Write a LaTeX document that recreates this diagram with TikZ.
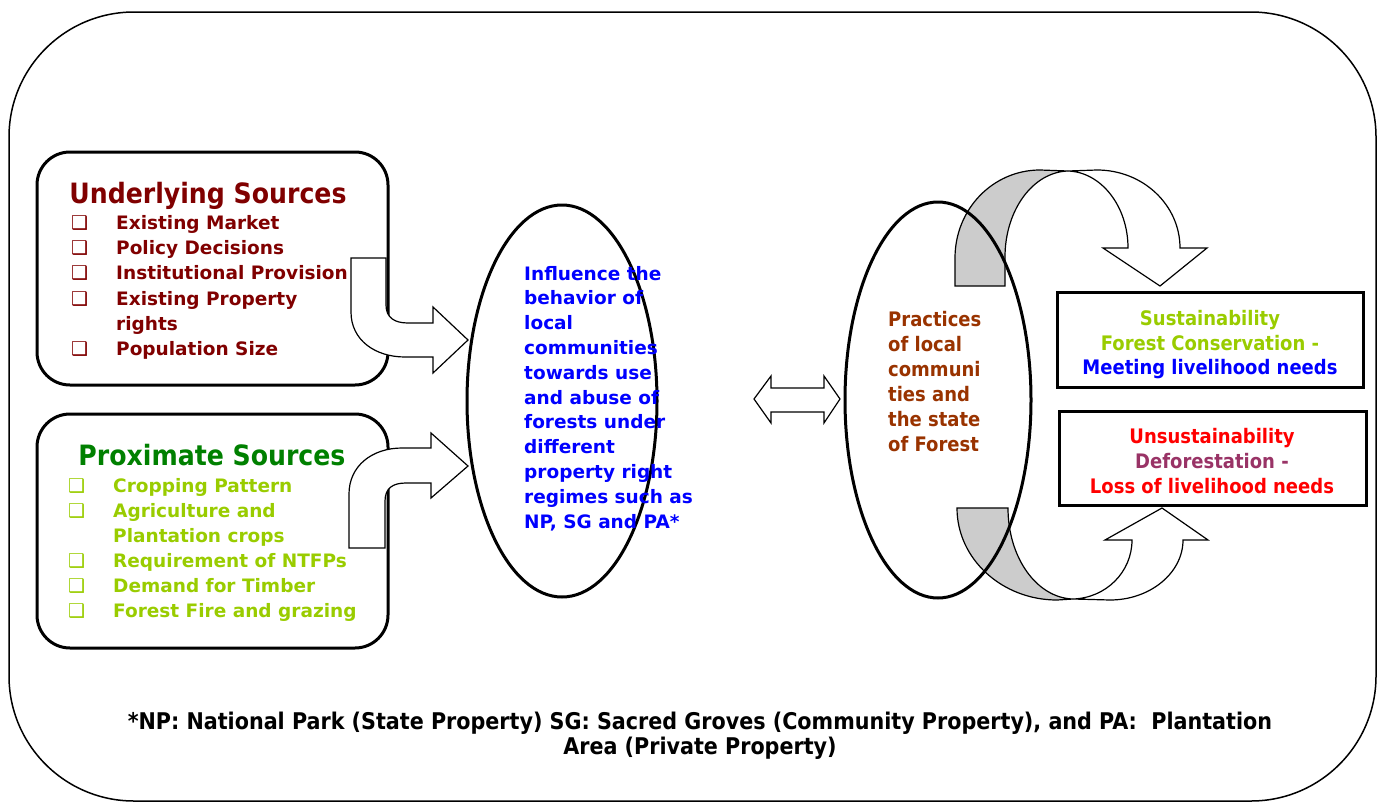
\documentclass[tikz,border=0pt]{standalone}
\usepackage{fontspec}
\usetikzlibrary{shapes.geometric}
\setmainfont{DejaVu Sans}
\newfontfamily\narrowfont{DejaVu Sans Condensed}
\definecolor{darkred}{HTML}{800000}
\definecolor{darkgreen}{HTML}{008000}
\definecolor{leafgreen}{HTML}{99CC00}
\definecolor{brickbrown}{HTML}{993300}
\definecolor{plum}{HTML}{993366}
\definecolor{ribbongray}{HTML}{CCCCCC}
\begin{document}
\begin{tikzpicture}[x=1pt,y=-1pt,
    srcbox/.style={line width=3pt,rounded corners=33pt},
    outcomebox/.style={line width=3pt},
    bigoval/.style={line width=3pt},
    blockarrow/.style={line width=1.2pt,fill=white,line join=miter},
    ribbonback/.style={line width=1.2pt,fill=ribbongray},
    ribbonfront/.style={line width=1.2pt,fill=white,line join=miter},
    itemtext/.style={font=\bfseries\fontsize{18.5}{22}\selectfont,anchor=base west,inner sep=0pt},
    tickbox/.style={font=\fontsize{19}{22}\selectfont,anchor=base west,inner sep=0pt},
    titletext/.style={font=\narrowfont\bfseries\fontsize{28}{32}\selectfont,anchor=base,inner sep=0pt},
    narrowtext/.style={font=\narrowfont\bfseries\fontsize{20}{24}\selectfont,inner sep=0pt},
    notetext/.style={font=\narrowfont\bfseries\fontsize{23}{26}\selectfont,anchor=base,inner sep=0pt}]
    \useasboundingbox (0,0) rectangle (1381,803);
    % Outer frame
    \draw[line width=1.5pt,rounded corners=125pt] (9,12) rectangle (1376,801);
    % Source boxes
    \draw[srcbox] (37,152) rectangle (388,385);
    \draw[srcbox] (37,414) rectangle (388,648);
    % Underlying sources
    \node[titletext,text=darkred] (undertitle) at (208,203) {Underlying Sources};
    \foreach \y [count=\i] in {229,254,279,305,355}
        \node[tickbox,text=darkred] (ubox\i) at (71,\y) {❑};
    \foreach \y/\txt [count=\i] in {229/Existing Market,254/Policy Decisions,279/Institutional Provision,305/Existing Property,330/rights,355/Population Size}
        \node[itemtext,text=darkred] (uitem\i) at (116,\y) {\txt};
    % Proximate sources
    \node[titletext,text=darkgreen] (proxtitle) at (212,465) {Proximate Sources};
    \foreach \y [count=\i] in {492,517,567,592,617}
        \node[tickbox,text=leafgreen] (pbox\i) at (68,\y) {❑};
    \foreach \y/\txt [count=\i] in {492/Cropping Pattern,517/Agriculture and,542/Plantation crops,567/Requirement of NTFPs,592/Demand for Timber,617/Forest Fire and grazing}
        \node[itemtext,text=leafgreen] (pitem\i) at (113,\y) {\txt};
    % Bent arrows into the oval
    \draw[blockarrow] (351,258) -- (351,312) .. controls (351,340) and (375,357) .. (405,357)
        -- (433,357) -- (433,373) -- (468,340) -- (433,307) -- (433,323) -- (408,323)
        .. controls (395,323) and (386,318) .. (386,305) -- (386,258) -- cycle;
    \draw[blockarrow] (349,548) -- (349,494) .. controls (349,466) and (372,448) .. (402,448)
        -- (431,448) -- (431,433) -- (468,466) -- (431,498) -- (431,483) -- (406,483)
        .. controls (393,483) and (385,488) .. (385,501) -- (385,548) -- cycle;
    % Central oval
    \node[bigoval,draw,ellipse,minimum width=190pt,minimum height=392pt,inner sep=0pt] (influence) at (562,401) {};
    \foreach \txt [count=\i] in {Influence the,behavior of,local,communities,towards use,and abuse of,forests under,different,property right,regimes such as,{NP, SG and PA*}}
        \node[itemtext,text=blue] (infl\i) at (524,{280+24.8*(\i-1)}) {\txt};
    % Two-headed arrow
    \draw[blockarrow] (754,399) -- (771,376) -- (771,388) -- (824,388) -- (824,376) -- (840,399)
        -- (824,423) -- (824,412) -- (771,412) -- (771,423) -- cycle;
    % Twisted ribbons
    \draw[ribbonback] (955,286) -- (955,258) .. controls (955,209) and (993,170) .. (1040,170) -- (1068,171)
        .. controls (1033,172) and (1005,210) .. (1005,257) -- (1005,286) -- cycle;
    \draw[ribbonfront] (1068,171) -- (1097,170) .. controls (1143,170) and (1180,205) .. (1180,248)
        -- (1207,248) -- (1160,286) -- (1103,248) -- (1128,248)
        .. controls (1128,206) and (1101,172) .. (1068,171) -- cycle;
    \draw[ribbonback] (957,508) .. controls (957,559) and (1002,600) .. (1057,600) -- (1073,599)
        .. controls (1037,598) and (1008,558) .. (1008,508) -- cycle;
    \draw[ribbonfront] (1073,599) -- (1110,600) .. controls (1150,600) and (1183,573) .. (1183,540)
        -- (1208,540) -- (1162,508) -- (1105,540) -- (1132,540)
        .. controls (1132,572) and (1106,598) .. (1073,599) -- cycle;
    % Right oval
    \node[bigoval,draw,ellipse,minimum width=186pt,minimum height=396pt,inner sep=0pt] (practice) at (938,400) {};
    \foreach \txt [count=\i] in {Practices,of local,communi,ties and,the state,of Forest}
        \node[narrowtext,anchor=base west,text=brickbrown] (prac\i) at (888,{326+25*(\i-1)}) {\txt};
    % Outcome boxes
    \draw[outcomebox] (1057,292) rectangle (1363,387);
    \node[narrowtext,anchor=base,text=leafgreen] (sust1) at (1210,325) {Sustainability};
    \node[narrowtext,anchor=base,text=leafgreen] (sust2) at (1210,350) {Forest Conservation -};
    \node[narrowtext,anchor=base,text=blue] (sust3) at (1210,374) {Meeting livelihood needs};
    \draw[outcomebox] (1059,411) rectangle (1366,505);
    \node[narrowtext,anchor=base,text=red] (unsust1) at (1212,443) {Unsustainability};
    \node[narrowtext,anchor=base,text=plum] (unsust2) at (1212,468) {Deforestation -};
    \node[narrowtext,anchor=base,text=red] (unsust3) at (1212,493) {Loss of livelihood needs};
    % Footnote
    \node[notetext] (note1) at (700,729) {*NP: National Park (State Property) SG: Sacred Groves (Community Property), and PA:\ \ Plantation};
    \node[notetext] (note2) at (700,754) {Area (Private Property)};
\end{tikzpicture}
\end{document}
